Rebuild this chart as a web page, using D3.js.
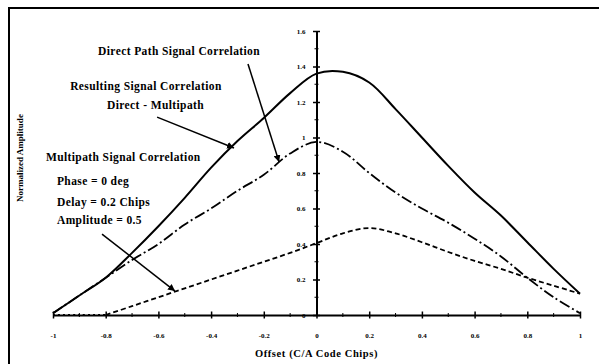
<!DOCTYPE html>
<html>
<head>
<meta charset="utf-8">
<script src="https://cdnjs.cloudflare.com/ajax/libs/d3/7.8.5/d3.min.js"></script>
<style>
  body { margin: 0; background: #fff; }
  svg { display: block; }
  text { font-family: "Liberation Serif", "DejaVu Serif", serif; font-weight: bold; fill: #000; }
</style>
</head>
<body>
<div id="chart"></div>
<script>
// offsets in C/A code chips
var offsets = [-1, -0.9, -0.8, -0.7, -0.6, -0.5, -0.4, -0.3, -0.2, -0.1, 0,
               0.1, 0.2, 0.3, 0.4, 0.5, 0.6, 0.7, 0.8, 0.9, 1];
var direct    = [0.01, 0.11, 0.21, 0.35, 0.50, 0.66, 0.83, 0.98, 1.11, 1.25, 1.36,
                 1.37, 1.31, 1.16, 1.00, 0.84, 0.69, 0.56, 0.41, 0.26, 0.12];
var resulting = [0.01, 0.11, 0.21, 0.31, 0.40, 0.51, 0.60, 0.70, 0.79, 0.91, 0.975,
                 0.92, 0.80, 0.69, 0.60, 0.52, 0.43, 0.33, 0.21, 0.10, 0.01];
var multipath = [0, 0, 0, 0.05, 0.10, 0.15, 0.20, 0.25, 0.30, 0.35, 0.405,
                 0.46, 0.49, 0.46, 0.41, 0.355, 0.305, 0.26, 0.21, 0.165, 0.12];

var xTicks = [-1, -0.8, -0.6, -0.4, -0.2, 0, 0.2, 0.4, 0.6, 0.8, 1];
var yTicks = [0, 0.2, 0.4, 0.6, 0.8, 1, 1.2, 1.4, 1.6];

var labels = [
  { text: "Direct Path Signal Correlation", x: -0.829, y: 1.465 },
  { text: "Resulting Signal Correlation", x: -0.935, y: 1.268 },
  { text: "Direct - Multipath", x: -0.795, y: 1.161 },
  { text: "Multipath Signal Correlation", x: -1.027, y: 0.868 },
  { text: "Phase = 0 deg", x: -0.985, y: 0.732 },
  { text: "Delay = 0.2 Chips", x: -0.985, y: 0.614 },
  { text: "Amplitude = 0.5", x: -0.985, y: 0.513 }
];
var arrows = [
  { x1: -0.26, y1: 1.414, x2: -0.142, y2: 0.862 },
  { x1: -0.605, y1: 1.115, x2: -0.313, y2: 0.941 },
  { x1: -0.814, y1: 0.456, x2: -0.537, y2: 0.135 }
];

var W = 599, H = 364;
var svg = d3.select("#chart").append("svg")
    .attr("width", W)
    .attr("height", H);

// frame (top and left only)
svg.append("path")
    .attr("d", "M9,364V8H599")
    .attr("fill", "none")
    .attr("stroke", "#000")
    .attr("stroke-width", 2);

var x = d3.scaleLinear().domain([-1, 1]).range([53, 580]);
var y = d3.scaleLinear().domain([0, 1.6]).range([315, 31]);

var fmt = function (d) { return d === 0 ? "0" : String(+d.toFixed(1)); };

// x axis
var xAxis = svg.append("g")
    .attr("transform", "translate(0," + y(0) + ")")
    .call(d3.axisBottom(x).tickValues(xTicks).tickSize(0).tickPadding(0).tickFormat(fmt));
xAxis.select(".domain").attr("stroke-width", 2);
xAxis.selectAll(".tick line").attr("y1", -3.5).attr("y2", 3.5).attr("stroke-width", 1.5);
xAxis.selectAll(".tick text").attr("y", 23).attr("dy", 0).style("font-size", "7px");
xAxis.selectAll(".minor")
    .data(d3.range(-0.9, 1, 0.2))
    .enter().append("line")
    .attr("x1", function (d) { return x(d); })
    .attr("x2", function (d) { return x(d); })
    .attr("y1", -2).attr("y2", 2)
    .attr("stroke", "#000");

// y axis at offset 0
var yAxis = svg.append("g")
    .attr("transform", "translate(" + x(0) + ",0)")
    .call(d3.axisLeft(y).tickValues(yTicks).tickSize(0).tickPadding(11).tickFormat(fmt));
yAxis.select(".domain").attr("stroke-width", 2);
yAxis.selectAll(".tick line").attr("x1", -3.5).attr("x2", 3.5).attr("stroke-width", 1.5);
yAxis.selectAll(".tick text").style("font-size", "7px");
yAxis.selectAll(".minor")
    .data(d3.range(0.1, 1.6, 0.2))
    .enter().append("line")
    .attr("y1", function (d) { return y(d); })
    .attr("y2", function (d) { return y(d); })
    .attr("x1", -2).attr("x2", 2)
    .attr("stroke", "#000");

// curves
var line = d3.line()
    .x(function (d) { return x(d[0]); })
    .y(function (d) { return y(d[1]); })
    .curve(d3.curveCatmullRom);

var pts = function (vals) { return offsets.map(function (o, i) { return [o, vals[i]]; }); };

svg.append("path")
    .datum(pts(direct))
    .attr("d", line)
    .attr("fill", "none")
    .attr("stroke", "#000")
    .attr("stroke-width", 2);

svg.append("path")
    .datum(pts(resulting))
    .attr("d", line)
    .attr("fill", "none")
    .attr("stroke", "#000")
    .attr("stroke-width", 1.8)
    .attr("stroke-dasharray", "11,3,2,3");

var mp = pts(multipath);
svg.append("path")
    .datum(mp.filter(function (d) { return d[0] <= -0.8; }))
    .attr("d", line)
    .attr("fill", "none")
    .attr("stroke", "#000")
    .attr("stroke-width", 1.8)
    .attr("stroke-dasharray", "2,3");
svg.append("path")
    .datum(mp.filter(function (d) { return d[0] >= -0.8; }))
    .attr("d", line)
    .attr("fill", "none")
    .attr("stroke", "#000")
    .attr("stroke-width", 1.8)
    .attr("stroke-dasharray", "5,3");

// annotations
svg.append("defs").append("marker")
    .attr("id", "head")
    .attr("viewBox", "0 0 10 10")
    .attr("refX", 10).attr("refY", 5)
    .attr("markerWidth", 7).attr("markerHeight", 7)
    .attr("markerUnits", "userSpaceOnUse")
    .attr("orient", "auto")
    .append("path")
    .attr("d", "M0,0L10,5L0,10z")
    .attr("fill", "#000");

svg.selectAll(".arrow")
    .data(arrows)
    .enter().append("line")
    .attr("x1", function (d) { return x(d.x1); })
    .attr("y1", function (d) { return y(d.y1); })
    .attr("x2", function (d) { return x(d.x2); })
    .attr("y2", function (d) { return y(d.y2); })
    .attr("stroke", "#000")
    .attr("stroke-width", 1.5)
    .attr("marker-end", "url(#head)");

svg.selectAll(".label")
    .data(labels)
    .enter().append("text")
    .attr("x", function (d) { return x(d.x); })
    .attr("y", function (d) { return y(d.y); })
    .style("font-size", "11.5px")
    .style("letter-spacing", "0.4px")
    .text(function (d) { return d.text; });

// axis titles
svg.append("text")
    .attr("x", x(0))
    .attr("y", 357)
    .attr("text-anchor", "middle")
    .style("font-size", "10.5px")
    .style("letter-spacing", "0.6px")
    .text("Offset (C/A Code Chips)");

svg.append("text")
    .attr("transform", "translate(23,158) rotate(-90)")
    .attr("text-anchor", "middle")
    .style("font-size", "9px")
    .text("Normalized Amplitude");
</script>
</body>
</html>
